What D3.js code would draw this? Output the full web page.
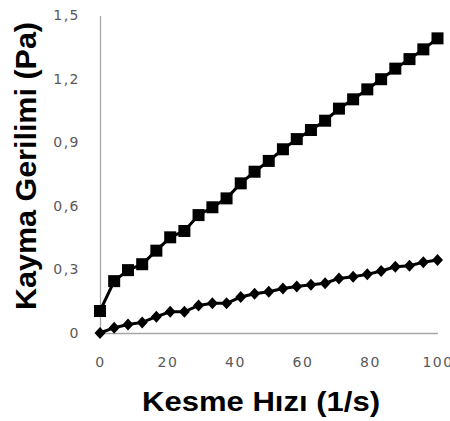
<!DOCTYPE html>
<html>
<head>
<meta charset="utf-8">
<script src="https://cdn.jsdelivr.net/npm/d3@7"></script>
<style>
  html, body { margin: 0; padding: 0; background: #fff; }
  svg { display: block; }
</style>
</head>
<body>
<svg id="chart" width="450" height="421"></svg>
<script>
// Shear rate (1/s)
const shearRate = [0, 4.2, 8.3, 12.5, 16.7, 20.8, 25, 29.2, 33.3, 37.5, 41.7, 45.8, 50,
                   54.2, 58.3, 62.5, 66.7, 70.8, 75, 79.2, 83.3, 87.5, 91.7, 95.8, 100];
// Shear stress (Pa), square-marker series
const stressSquares = [0.104, 0.245, 0.297, 0.325, 0.389, 0.452, 0.482, 0.557, 0.594, 0.636,
                       0.707, 0.762, 0.813, 0.868, 0.916, 0.959, 1.003, 1.060, 1.104, 1.151,
                       1.199, 1.249, 1.294, 1.340, 1.392];
// Shear stress (Pa), diamond-marker series
const stressDiamonds = [0.0, 0.025, 0.04, 0.05, 0.077, 0.10, 0.10, 0.13, 0.14, 0.14,
                        0.17, 0.185, 0.195, 0.21, 0.22, 0.228, 0.235, 0.258, 0.266, 0.277,
                        0.293, 0.313, 0.318, 0.334, 0.345];
const xTicks = [0, 20, 40, 60, 80, 100];
const yTicks = [0, 0.3, 0.6, 0.9, 1.2, 1.5];
const xTitle = "Kesme Hızı (1/s)";
const yTitle = "Kayma Gerilimi (Pa)";

const svg = d3.select("#chart");
svg.append("rect").attr("width", 450).attr("height", 421).attr("fill", "#fff");

const x = d3.scaleLinear().domain([0, 100]).range([100, 437.5]);
const y = d3.scaleLinear().domain([0, 1.5]).range([333, 15.5]);

const fmt = d => d === 0 ? "0" : d3.format(".1f")(d).replace(".", ",");

// Y axis
const gy = svg.append("g").attr("transform", "translate(100,0)")
  .call(d3.axisLeft(y).tickValues(yTicks).tickFormat(fmt).tickSize(0).tickPadding(20));
gy.select(".domain").attr("stroke", "#a6a6a6").attr("stroke-width", 1.3);
gy.selectAll("text").attr("font-family", "DejaVu Sans, sans-serif").attr("font-size", 14)
  .attr("fill", "#595959").attr("letter-spacing", "1.5px");

// X axis
const gx = svg.append("g").attr("transform", "translate(0,333)")
  .call(d3.axisBottom(x).tickValues(xTicks).tickFormat(d => String(d)).tickSize(0).tickPadding(24));
gx.select(".domain").attr("stroke", "#a6a6a6").attr("stroke-width", 1.3);
gx.selectAll("text").attr("font-family", "DejaVu Sans, sans-serif").attr("font-size", 14)
  .attr("fill", "#595959").attr("letter-spacing", "1.5px");

const line = d3.line().x(d => x(d[0])).y(d => y(d[1]));
const sq = shearRate.map((v, i) => [v, stressSquares[i]]);
const di = shearRate.map((v, i) => [v, stressDiamonds[i]]);

svg.append("path").datum(sq).attr("d", line).attr("fill", "none")
  .attr("stroke", "#000").attr("stroke-width", 3);
svg.append("path").datum(di).attr("d", line).attr("fill", "none")
  .attr("stroke", "#000").attr("stroke-width", 3);

const S = 12;
svg.append("g").selectAll("rect").data(sq).join("rect")
  .attr("x", d => x(d[0]) - S / 2).attr("y", d => y(d[1]) - S / 2)
  .attr("width", S).attr("height", S).attr("fill", "#000");

svg.append("g").selectAll("path").data(di).join("path")
  .attr("transform", d => `translate(${x(d[0])},${y(d[1])})`)
  .attr("d", "M0,-6L5.5,0L0,6L-5.5,0Z").attr("fill", "#000");

// Titles
svg.append("text").attr("x", 261).attr("y", 411).attr("text-anchor", "middle")
  .attr("font-family", "Liberation Sans, Arial, sans-serif").attr("font-weight", "bold")
  .attr("font-size", 28).attr("textLength", 238).attr("lengthAdjust", "spacingAndGlyphs")
  .attr("fill", "#000").text(xTitle);

svg.append("text").attr("transform", "translate(36,166) rotate(-90)").attr("text-anchor", "middle")
  .attr("font-family", "Liberation Sans, Arial, sans-serif").attr("font-weight", "bold")
  .attr("font-size", 29).attr("textLength", 288).attr("lengthAdjust", "spacingAndGlyphs")
  .attr("fill", "#000").text(yTitle);
</script>
</body>
</html>
